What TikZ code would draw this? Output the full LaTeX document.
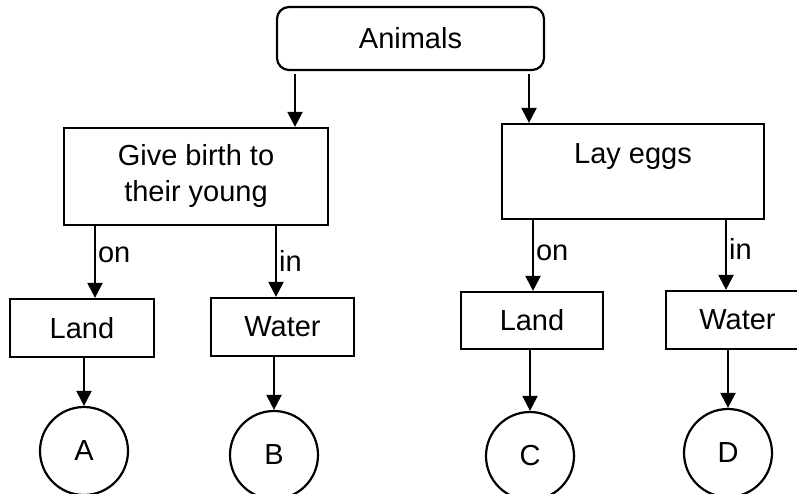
\documentclass[tikz,border=0pt]{standalone}
\usepackage{fontspec}
\setmainfont{Liberation Sans}
\usetikzlibrary{arrows.meta}

\begin{document}
\begin{tikzpicture}[x=1pt, y=-1pt, line width=2.2pt, >={Triangle[length=15pt,width=15pt]},
  font=\fontsize{29}{36}\selectfont,
  main/.style = {draw, rectangle, inner sep=0pt, align=center},
  leaf/.style = {draw, circle, minimum size=88pt, inner sep=0pt},
  lbl/.style = {right, inner sep=2pt}]
\useasboundingbox (0,0) rectangle (797,494);
\clip (0,0) rectangle (797,494);

\node[main, rounded corners=12pt, minimum width=267pt, minimum height=63pt] (1) at (410.5,38.5) {Animals};
\node[main, minimum width=264pt, minimum height=97pt] (2) at (196,176.5) {Give birth to\\their young};
\node[main, minimum width=262pt, minimum height=95pt] (3) at (633,171.5) {Lay eggs\\\mbox{}};

\node[main, minimum width=144pt, minimum height=58pt] (4) at (82,328) {Land};
\node[main, minimum width=143pt, minimum height=58pt] (5) at (282.5,327) {Water};
\node[main, minimum width=142pt, minimum height=57pt] (6) at (532,320.5) {Land};
\node[main, minimum width=143pt, minimum height=58pt] (7) at (737.5,320) {Water};

\node[leaf] (8) at (84,451) {A};
\node[leaf] (9) at (274,455) {B};
\node[leaf] (10) at (530,456) {C};
\node[leaf] (11) at (728,453) {D};

% columns of the arrows
\coordinate (c1) at (295,0);
\coordinate (c2) at (529,0);
\coordinate (c3) at (95,0);
\coordinate (c4) at (276,0);
\coordinate (c5) at (533,0);
\coordinate (c6) at (726,0);

\draw[->, shorten <=3pt] (1.south -| c1) -- (2.north -| c1);
\draw[->, shorten <=3pt] (1.south -| c2) -- (3.north -| c2);

\draw[->] (2.south -| c3) -- node[lbl, pos=0.4] {on} (4.north -| c3);
\draw[->] (2.south -| c4) -- node[lbl, pos=0.49] {in} (5.north -| c4);
\draw[->] (3.south -| c5) -- node[lbl, pos=0.46] {on} (6.north -| c5);
\draw[->] (3.south -| c6) -- node[lbl, pos=0.42] {in} (7.north -| c6);

\draw[->] (4.south -| 8.north) -- (8.north);
\draw[->] (5.south -| 9.north) -- (9.north);
\draw[->] (6.south -| 10.north) -- (10.north);
\draw[->] (7.south -| 11.north) -- (11.north);

\end{tikzpicture}
\end{document}
